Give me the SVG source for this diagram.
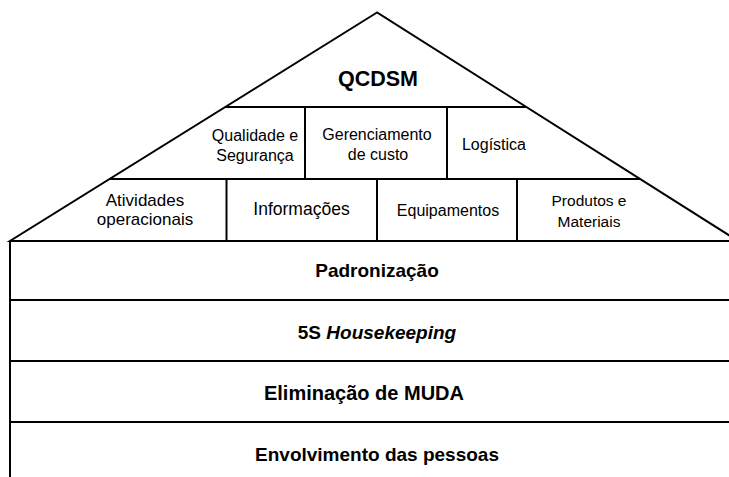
<svg xmlns="http://www.w3.org/2000/svg" width="729" height="477" viewBox="0 0 729 477">
<style>
.ln{stroke:#000;stroke-width:2;fill:none}
.t{font-family:"Liberation Sans",Arial,sans-serif;fill:#000;text-anchor:middle}
.s{font-size:16px}
.m{font-size:17px}
.b{font-size:19px;font-weight:bold}
</style>
<rect width="729" height="477" fill="#fff"/>
<g id="frame">
<polygon class="ln" points="377,12.5 10,241 738,241" fill="#fff"/>
<line class="ln" x1="225.2" y1="107" x2="526.3" y2="107"/>
<line class="ln" x1="109.6" y1="179" x2="640" y2="179"/>
<line class="ln" x1="305" y1="107" x2="305" y2="179"/>
<line class="ln" x1="447" y1="107" x2="447" y2="179"/>
<line class="ln" x1="226.5" y1="179" x2="226.5" y2="241"/>
<line class="ln" x1="377" y1="179" x2="377" y2="241"/>
<line class="ln" x1="517" y1="179" x2="517" y2="241"/>
<line class="ln" x1="10" y1="241" x2="10" y2="478"/>
<line class="ln" x1="10" y1="241" x2="740" y2="241"/>
<line class="ln" x1="10" y1="300" x2="740" y2="300"/>
<line class="ln" x1="10" y1="361" x2="740" y2="361" stroke-width="3"/>
<line class="ln" x1="10" y1="422" x2="740" y2="422"/>
</g>
<g id="qcdsm"><text class="t" x="378" y="85.5" font-size="21.5" font-weight="bold">QCDSM</text></g>
<g id="qualidade"><text class="t s" x="255" y="140.5">Qualidade e</text><text class="t s" x="255" y="161">Segurança</text></g>
<g id="gerenciamento"><text class="t s" x="377" y="140">Gerenciamento</text><text class="t s" x="378" y="160">de custo</text></g>
<g id="logistica"><text class="t s" x="494" y="149.5">Logística</text></g>
<g id="atividades"><text class="t m" x="145" y="206">Atividades</text><text class="t m" x="145" y="225">operacionais</text></g>
<g id="informacoes"><text class="t" x="301.5" y="215" font-size="17.5">Informações</text></g>
<g id="equipamentos"><text class="t s" x="448" y="215.5">Equipamentos</text></g>
<g id="produtos"><text class="t" x="589" y="206" font-size="15.5">Produtos e</text><text class="t" x="589" y="226.5" font-size="15.5">Materiais</text></g>
<g id="padronizacao"><text class="t b" x="377" y="277">Padronização</text></g>
<g id="housekeeping"><text class="t b" x="377" y="339">5S <tspan font-style="italic">Housekeeping</tspan></text></g>
<g id="muda"><text class="t" x="364" y="400" font-size="20" font-weight="bold">Eliminação de MUDA</text></g>
<g id="pessoas"><text class="t b" x="377" y="461">Envolvimento das pessoas</text></g>
</svg>
